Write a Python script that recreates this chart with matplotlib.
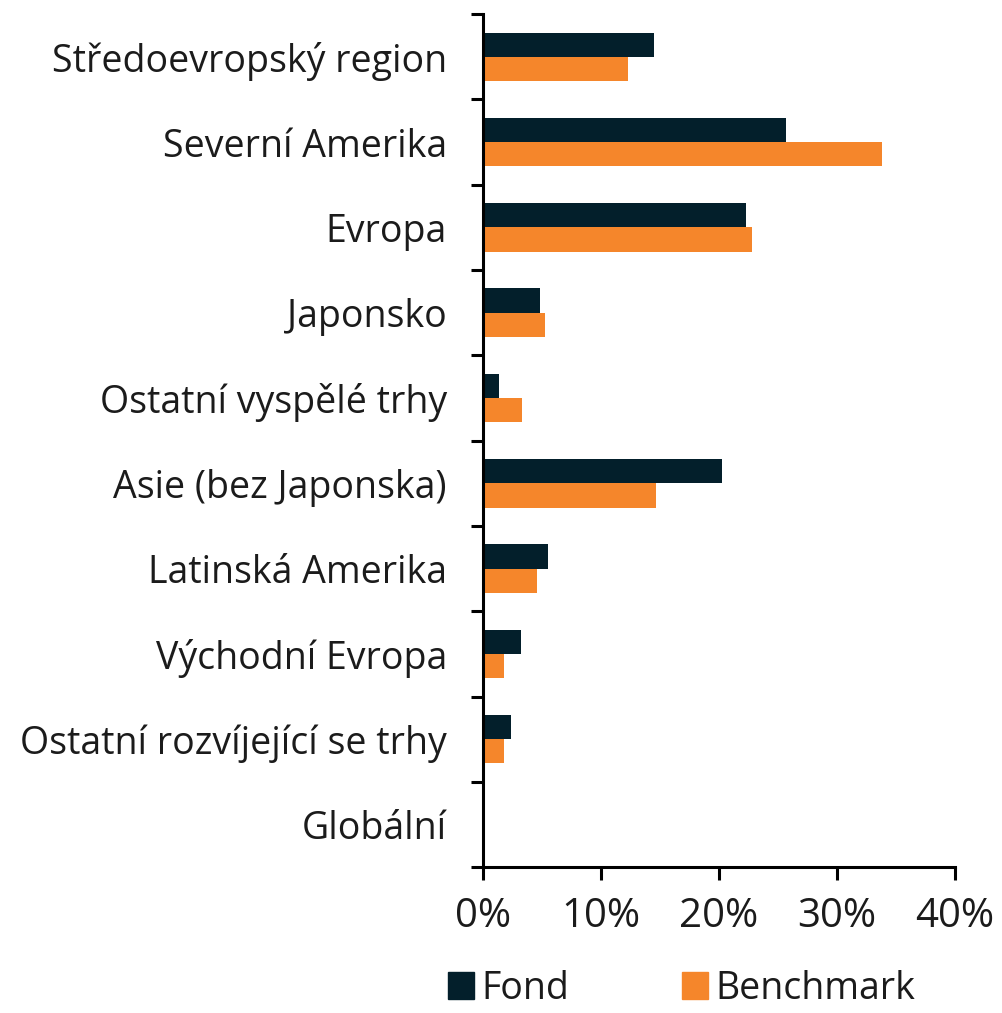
import numpy as np
import matplotlib.pyplot as plt
from matplotlib.patches import Patch

# data
regiony = ['Středoevropský region', 'Severní Amerika', 'Evropa', 'Japonsko',
           'Ostatní vyspělé trhy', 'Asie (bez Japonska)', 'Latinská Amerika',
           'Východní Evropa', 'Ostatní rozvíjející se trhy', 'Globální']
fond = [14.5, 25.7, 22.3, 4.8, 1.4, 20.3, 5.5, 3.2, 2.4, 0.0]
benchmark = [12.3, 33.8, 22.8, 5.3, 3.3, 14.7, 4.6, 1.8, 1.8, 0.0]
xticks = [0, 10, 20, 30, 40]

plt.rcParams['font.family'] = ['Open Sans', 'DejaVu Sans']
text_col = '#1b1b1b'

fig = plt.figure(figsize=(10.02, 10.13), dpi=100)
ax = fig.add_axes([0.482, 0.144, 0.471, 0.842])

y = np.arange(len(regiony))
h = 0.285
ax.barh(y - h / 2, fond, height=h, color='#031f2b', label='Fond')
ax.barh(y + h / 2, benchmark, height=h, color='#f5862b', label='Benchmark')

ax.set_ylim(len(regiony) - 0.5, -0.5)
ax.set_xlim(0, 40)

# labels in the middle of the slot, ticks at slot borders
ax.set_yticks(np.arange(len(regiony) + 1) - 0.5)
ax.set_yticklabels([])
ax.set_yticks(y, minor=True)
ax.set_yticklabels(regiony, minor=True, fontsize=27, color=text_col)
ax.tick_params(axis='y', which='minor', length=0, pad=26)
ax.tick_params(axis='y', which='major', length=9, width=2.2, direction='out')

ax.set_xticks(xticks)
ax.set_xticklabels([f'{t}%' for t in xticks], fontsize=29, color=text_col)
ax.tick_params(axis='x', length=9, width=2.2, direction='out', pad=12)

for s in ['top', 'right']:
    ax.spines[s].set_visible(False)
for s in ['left', 'bottom']:
    ax.spines[s].set_linewidth(2.2)

handles = [Patch(color='#031f2b', label='Fond'), Patch(color='#f5862b', label='Benchmark')]
fig.legend(handles=handles, loc='lower left', bbox_to_anchor=(0.413, -0.028), ncol=2,
           frameon=False, fontsize=27, handlelength=0.7, handleheight=0.7,
           handletextpad=0.2, columnspacing=3.0, labelcolor=text_col)

fig.savefig('out.png', dpi=100)
